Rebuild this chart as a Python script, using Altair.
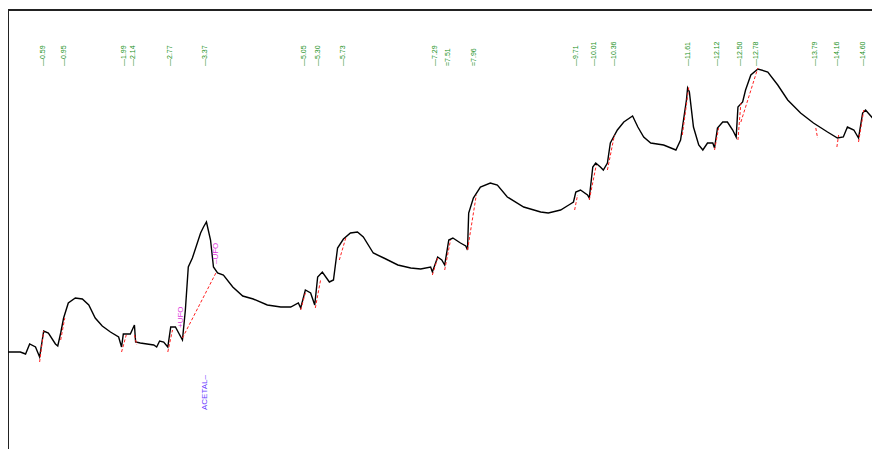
import altair as alt
import pandas as pd

# chromatogram trace (retention time in min, detector signal in arbitrary units)
trace_time = [0.00, 0.21, 0.30, 0.37, 0.47, 0.54, 0.61, 0.69, 0.81, 0.85, 0.90, 0.95, 1.03, 1.15, 1.27, 1.38,
              1.49, 1.61, 1.75, 1.89, 1.94, 1.97, 2.09, 2.16, 2.18, 2.26, 2.49, 2.54, 2.59, 2.66, 2.73, 2.78,
              2.86, 2.98, 3.03, 3.08, 3.15, 3.29, 3.34, 3.39, 3.46, 3.51, 3.58, 3.68, 3.84, 4.01, 4.19, 4.43,
              4.66, 4.83, 4.96, 5.00, 5.08, 5.17, 5.24, 5.29, 5.37, 5.49, 5.56, 5.63, 5.73, 5.85, 5.97, 6.07,
              6.24, 6.42, 6.66, 6.88, 7.05, 7.22, 7.25, 7.34, 7.41, 7.46, 7.53, 7.60, 7.73, 7.82, 7.85, 7.87,
              7.95, 8.07, 8.24, 8.36, 8.53, 8.81, 9.10, 9.23, 9.44, 9.58, 9.66, 9.70, 9.78, 9.90, 9.93, 9.99,
              10.04, 10.12, 10.17, 10.24, 10.29, 10.41, 10.52, 10.67, 10.76, 10.86, 10.98, 11.20, 11.41, 11.49,
              11.54, 11.59, 11.61, 11.64, 11.71, 11.80, 11.87, 11.95, 12.04, 12.07, 12.12, 12.21, 12.29, 12.38,
              12.44, 12.47, 12.55, 12.60, 12.69, 12.81, 12.98, 13.15, 13.32, 13.54, 13.76, 14.00, 14.17, 14.27,
              14.34, 14.45, 14.53, 14.60, 14.65, 14.77, 14.86, 14.91]
trace_signal = [107, 107, 105, 115, 112, 102, 128, 126, 115, 113, 126, 141, 156, 161, 160, 154,
                141, 133, 127, 122, 112, 125, 125, 134, 117, 116, 114, 112, 118, 117, 112, 132,
                132, 119, 149, 192, 201, 226, 232, 237, 219, 192, 186, 184, 172, 163, 160, 154,
                152, 152, 156, 151, 169, 166, 154, 182, 187, 177, 179, 211, 220, 226, 227, 222,
                206, 201, 194, 191, 190, 192, 187, 202, 199, 194, 219, 221, 216, 213, 209, 246,
                261, 272, 276, 274, 262, 252, 247, 246, 249, 254, 257, 267, 269, 264, 261, 292,
                296, 292, 289, 296, 316, 329, 337, 343, 332, 322, 316, 314, 309, 319,
                339, 359, 371, 367, 332, 314, 309, 316, 316, 311, 331, 337, 337, 329,
                322, 352, 357, 369, 384, 390, 387, 374, 359, 346, 336, 327, 321, 322,
                332, 329, 321, 346, 349, 341, 332, 339]

# integration baselines (red dashed segments)
base_t0 = [0.54, 0.90, 1.94, 2.16, 2.73, 2.98, 5.00, 5.25, 5.66, 7.25, 7.46, 7.85, 9.68, 9.93, 10.24,
           11.52, 12.07, 12.47, 12.52, 13.80, 14.16, 14.53]
base_s0 = [97, 119, 107, 124, 107, 121, 149, 151, 199, 184, 189, 209, 249, 259, 289,
           324, 309, 319, 337, 331, 312, 317]
base_t1 = [0.61, 0.97, 2.02, 2.20, 2.81, 3.56, 5.08, 5.34, 5.77, 7.34, 7.56, 8.00, 9.73, 10.05, 10.36,
           11.63, 12.14, 12.52, 12.81, 13.83, 14.19, 14.62]
base_s1 = [128, 141, 124, 114, 129, 187, 166, 179, 221, 201, 219, 264, 264, 294, 324,
           372, 331, 356, 391, 321, 324, 349]

# peak retention-time labels
peak_times = [0.59, 0.95, 1.99, 2.14, 2.77, 3.37, 5.05, 5.30, 5.73, 7.29, 7.51, 7.96, 9.71, 10.01,
              10.36, 11.61, 12.12, 12.50, 12.78, 13.79, 14.16, 14.60]
peak_labels = ["—0.59", "—0.95", "—1.99", "—2.14", "—2.77", "—3.37", "—5.05", "—5.30", "—5.73",
               "—7.29", "=7.51", "=7.96", "—9.71", "—10.01", "—10.36", "—11.61", "—12.12",
               "—12.50", "—12.78", "—13.79", "—14.16", "—14.60"]
label_level = 393

# annotations
ufo_times = [2.95, 3.55]
ufo_signal = [131, 195]
ufo_text = ["+UFO", "–UFO"]
comp_time = [3.36]
comp_signal = [49]
comp_text = ["ACETAL–"]

W, H = 864, 439
xs = alt.Scale(domain=[0, 14.76], nice=False, zero=False)
ys = alt.Scale(domain=[10, 449], nice=False, zero=False)

trace = pd.DataFrame({"t": trace_time, "s": trace_signal})
base = pd.DataFrame({"t0": base_t0, "s0": base_s0, "t1": base_t1, "s1": base_s1})
peaks = pd.DataFrame({"t": peak_times, "label": peak_labels, "s": [label_level] * len(peak_times)})
ufo = pd.DataFrame({"t": ufo_times, "s": ufo_signal, "label": ufo_text})
comp = pd.DataFrame({"t": comp_time, "s": comp_signal, "label": comp_text})

line = alt.Chart(trace).mark_line(color="black", strokeWidth=1.4, clip=True).encode(
    x=alt.X("t:Q", scale=xs, axis=None),
    y=alt.Y("s:Q", scale=ys, axis=None),
)

baselines = alt.Chart(base).mark_rule(color="#ff2020", strokeWidth=1, strokeDash=[3, 2], clip=True).encode(
    x=alt.X("t0:Q", scale=xs, axis=None),
    y=alt.Y("s0:Q", scale=ys, axis=None),
    x2="t1:Q",
    y2="s1:Q",
)

peak_text = alt.Chart(peaks).mark_text(
    angle=270, align="left", baseline="middle", fontSize=7, font="Liberation Sans", color="#17911a"
).encode(
    x=alt.X("t:Q", scale=xs, axis=None),
    y=alt.Y("s:Q", scale=ys, axis=None),
    text="label:N",
)

ufo_marks = alt.Chart(ufo).mark_text(
    angle=270, align="left", baseline="middle", fontSize=8, font="Liberation Sans", color="#dd33dd"
).encode(
    x=alt.X("t:Q", scale=xs, axis=None),
    y=alt.Y("s:Q", scale=ys, axis=None),
    text="label:N",
)

comp_marks = alt.Chart(comp).mark_text(
    angle=270, align="left", baseline="middle", fontSize=8, font="Liberation Sans", color="#6a3cff"
).encode(
    x=alt.X("t:Q", scale=xs, axis=None),
    y=alt.Y("s:Q", scale=ys, axis=None),
    text="label:N",
)

frame_left = alt.Chart(trace).mark_rule(color="#222222", strokeWidth=1).encode(
    x=alt.value(0), y=alt.value(0), y2=alt.value(H)
)
frame_top = alt.Chart(trace).mark_rule(color="#222222", strokeWidth=1).encode(
    x=alt.value(0), x2=alt.value(W), y=alt.value(0)
)

chart = alt.layer(
    frame_left, frame_top, line, baselines, peak_text, ufo_marks, comp_marks
).properties(
    width=W, height=H,
    autosize=alt.AutoSizeParams(type="none"),
    padding={"left": 0, "top": 2, "right": 0, "bottom": 0},
).configure_view(stroke=None)

chart.save("out.html", embed_options={"renderer": "svg", "actions": False})
